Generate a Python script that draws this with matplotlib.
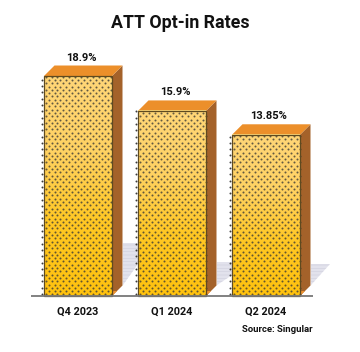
import matplotlib
matplotlib.use('Agg')
import matplotlib.pyplot as plt
import numpy as np
from matplotlib.patches import Polygon, Rectangle

quarters = ['Q4 2023', 'Q1 2024', 'Q2 2024']
rates = [18.9, 15.9, 13.85]
rate_labels = ['18.9%', '15.9%', '13.85%']

plt.rcParams['font.family'] = ['Roboto', 'DejaVu Sans']
plt.rcParams['hatch.linewidth'] = 0.4

W, H = 360, 352
fig = plt.figure(figsize=(W / 100, H / 100), dpi=100)
ax = fig.add_axes([0, 0, 1, 1])

# pixels per data unit, baseline at y=296, first bar centred at x=78
sx, sy = 94.0, 11.64
ax.set_xlim(-78 / sx, (W - 78) / sx)
ax.set_ylim(-(H - 296) / sy, 296 / sy)
ax.axis('off')

bw = 68 / sx
dx, dy = 10.5 / sx, 10.5 / sy
shadow_h = [42 / sy, 23 / sy, 21 / sy]
shadow_w = [30 / sx, 35 / sx, 19 / sx]

cmap = matplotlib.colors.LinearSegmentedColormap.from_list(
    'bar', ['#ffd677', '#ffd263', '#ffc724', '#ffc20e'])

for i, (q, v, lab) in enumerate(zip(quarters, rates, rate_labels)):
    x0, x1 = i - bw / 2, i + bw / 2

    # floor shadow, the next bar hides its far end
    xb = x1 + dx
    yb = 11 / sy
    ax.add_patch(Polygon([(xb, yb), (xb, yb + shadow_h[i]),
                          (xb + shadow_w[i], yb + shadow_h[i])],
                         fc='#e2e2ec', ec='#cfcfdd', hatch='-----', lw=0, zorder=1))

    # side and top faces
    ax.add_patch(Polygon([(x1, 0), (x1 + dx, dy), (x1 + dx, v + dy), (x1, v)],
                         fc='#a4622a', ec='none', zorder=2))
    ax.add_patch(Polygon([(x1, 0), (x1 + 5 / sx, 5 / sy), (x1 + 1.5 / sx, 5 / sy), (x1, 3 / sy)],
                         fc='#ee9230', ec='none', zorder=3))
    ax.add_patch(Polygon([(x0, v), (x0 + dx, v + dy), (x1 + dx, v + dy), (x1, v)],
                         fc='#ec8f2a', ec='none', zorder=2))

    # front face with gradient
    grad = np.linspace(0, 1, 64).reshape(-1, 1)
    ax.imshow(grad, extent=(x0, x1, 0, v), origin='upper', cmap=cmap,
              aspect='auto', zorder=3)
    ax.add_patch(Rectangle((x0, 0), bw, v, fc='none', ec='#5f4a1e', lw=0.9, zorder=5))

    # dot pattern
    rows = np.arange(1.6 / sy, v, 3.3 / sy)
    xs, ys = [], []
    for r, y in enumerate(rows):
        off = 0 if r % 2 == 0 else 3.0 / sx
        for x in np.arange(x0 + 1.5 / sx + off, x1 - 0.5 / sx, 6.0 / sx):
            xs.append(x)
            ys.append(y)
    ax.scatter(xs, ys, s=2.1, c='#3c3a35', alpha=0.8, linewidths=0, zorder=4)

    # column of dots left of the bar
    yl = np.arange(2 / sy, v + 1 / sy, 6.3 / sy)
    ax.scatter([x0 - 2.2 / sx] * len(yl), yl, s=2.0, c='#3c3c3c', linewidths=0, zorder=4)

    ax.text(i + 3 / sx, v + dy + 3 / sy, lab, ha='center', va='bottom',
            fontsize=8, fontweight='bold', color='#111111')
    ax.text(i - 0.5 / sx, -15.5 / sy, q, ha='center', va='center',
            fontsize=7.8, fontweight='bold', color='#111111')

ax.plot([-47 / sx, 235 / sx], [0, 0], color='#777777', lw=1.3, zorder=6, solid_capstyle='butt')

ax.text(102 / sx, (296 - 23) / sy, 'ATT Opt-in Rates', ha='center', va='center',
        fontsize=12.8, fontweight='bold', color='#111111')
ax.text(235 / sx, (296 - 329) / sy, 'Source: Singular', ha='right', va='center',
        fontsize=6.8, fontweight='bold', color='#111111')

fig.savefig('out.png', dpi=100)
